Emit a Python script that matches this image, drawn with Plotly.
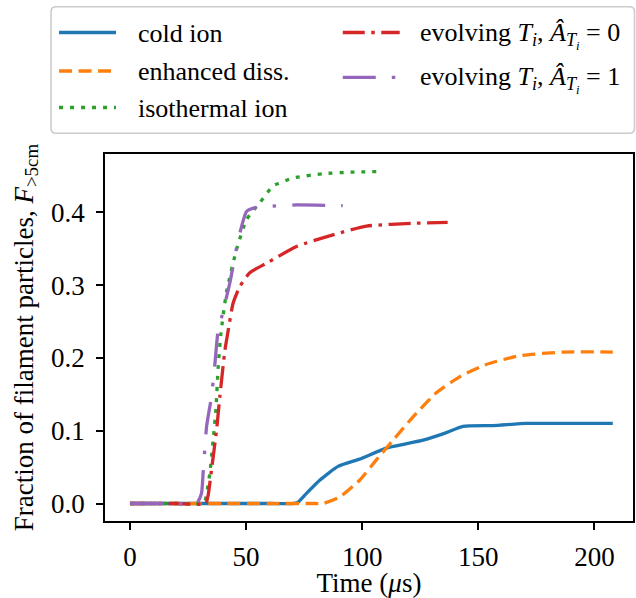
import plotly.graph_objects as go

# ---------------- data (time in microseconds, fraction F_{>5cm}) ----------------
cold_t = [0, 20, 40, 60, 70, 72.4, 76, 81.7, 89.6, 98.9, 110.4, 126.2, 136, 143.4, 156.3, 170.6, 190, 207.9]
cold_y = [0, 0, 0, 0, 0, 0.002, 0.014, 0.032, 0.051, 0.061, 0.076, 0.087, 0.097, 0.106, 0.107, 0.110, 0.110, 0.110]

enh_t = [0, 20, 40, 60, 80, 83.1, 90.3, 98.9, 106.1, 113.3, 121.9, 131.9, 141.9, 153.4, 167.7, 186.4, 207.9]
enh_y = [0, 0, 0, 0, 0, 0.0, 0.009, 0.032, 0.060, 0.087, 0.119, 0.152, 0.174, 0.191, 0.203, 0.208, 0.208]

iso_t = [0, 20, 31.3, 32.3, 34.4, 35.8, 37.0, 38.0, 39.1, 41.6, 45.9, 50.2, 55.9, 61.6, 70.2, 83.1, 95, 107.5]
iso_y = [0, 0, 0, 0.003, 0.042, 0.087, 0.129, 0.188, 0.232, 0.291, 0.349, 0.390, 0.413, 0.436, 0.447, 0.453, 0.455, 0.456]

ev0_t = [0, 20, 32.6, 33.7, 35.1, 37.3, 38.7, 40.9, 42.0, 44.4, 47.3, 51.6, 58.8, 71.7, 87.4, 101.8, 123.3, 136.8]
ev0_y = [0, 0, 0, 0.012, 0.046, 0.101, 0.147, 0.211, 0.232, 0.275, 0.298, 0.317, 0.330, 0.353, 0.369, 0.381, 0.385, 0.386]

ev1_t = [0, 20, 28.7, 30.8, 31.5, 33.0, 35.1, 36.6, 38.0, 39.4, 43.0, 46.6, 50.2, 53.5, 58.8, 71.7, 91.6]
ev1_y = [0, 0, 0, 0.014, 0.042, 0.106, 0.147, 0.193, 0.239, 0.255, 0.303, 0.362, 0.401, 0.406, 0.408, 0.410, 0.409]

series_names = ["cold ion", "enhanced diss.", "isothermal ion",
                "evolving <i>T<sub>i</sub></i>, <i>Â</i><sub><i>T<sub>i</sub></i></sub> = 0",
                "evolving <i>T<sub>i</sub></i>, <i>Â</i><sub><i>T<sub>i</sub></i></sub> = 1"]
series_t = [cold_t, enh_t, iso_t, ev0_t, ev1_t]
series_y = [cold_y, enh_y, iso_y, ev0_y, ev1_y]

x_ticks = [0, 50, 100, 150, 200]
y_ticks = [0.0, 0.1, 0.2, 0.3, 0.4]

# ---------------- styles ----------------
FONT = "Liberation Serif"
W = 3.3
colors = ["#1f77b4", "#ff7f0e", "#2ca02c", "#d62728", "#9467bd"]
dashes = ["solid", "13px,6.5px", "4px,7px", "22px,6.5px,3.5px,6.5px", "33px,16px,3.5px,16px"]

# plot area in pixels
W_FIG, H_FIG = 636, 598
PL, PR, PT, PB = 105, 633.5, 154, 521


def px2paper_x(px):
    return (px - PL) / (PR - PL)


def px2paper_y(py):
    return (PB - py) / (PB - PT)


fig = go.Figure()
for name, t, y, c, d in zip(series_names, series_t, series_y, colors, dashes):
    fig.add_trace(go.Scatter(x=t, y=y, mode="lines", name=name, showlegend=False,
                             line=dict(color=c, width=W, dash=d, shape="spline", smoothing=0.5)))

axis_common = dict(showgrid=False, zeroline=False, showline=True, linecolor="black", linewidth=1.8,
                   mirror=True, ticks="outside", ticklen=7, tickwidth=1.6, tickcolor="black",
                   automargin=False,
                   tickfont=dict(family=FONT, size=27, color="black"))

fig.update_xaxes(range=[-10.75, 216.6], tickvals=x_ticks, ticktext=[str(v) for v in x_ticks],
                 ticklabelstandoff=4,
                 title=dict(text="Time (<i>μ</i>s)", font=dict(family=FONT, size=27, color="black"), standoff=9),
                 **axis_common)
fig.update_yaxes(range=[-0.024, 0.480], tickvals=y_ticks, ticktext=[f"{v:.1f}" for v in y_ticks],
                 ticklabelstandoff=6,
                 title=dict(text="Fraction of filament particles, <i>F</i><sub>&gt;5cm</sub>",
                            font=dict(family=FONT, size=27, color="black"), standoff=10),
                 **axis_common)

# ---------------- legend (drawn as a box with handles and text) ----------------
shapes = []
annotations = []

bx0, bx1, by0, by1, r = 51, 635, 6.7, 133.3, 5
X0, X1 = px2paper_x(bx0), px2paper_x(bx1)
Y0, Y1 = px2paper_y(by1), px2paper_y(by0)
rx = r / (PR - PL)
ry = r / (PB - PT)
path = (f"M {X0 + rx},{Y1} L {X1 - rx},{Y1} Q {X1},{Y1} {X1},{Y1 - ry} "
        f"L {X1},{Y0 + ry} Q {X1},{Y0} {X1 - rx},{Y0} "
        f"L {X0 + rx},{Y0} Q {X0},{Y0} {X0},{Y0 + ry} "
        f"L {X0},{Y1 - ry} Q {X0},{Y1} {X0 + rx},{Y1} Z")
shapes.append(dict(type="path", xref="paper", yref="paper", path=path,
                   line=dict(color="#cccccc", width=1.6), fillcolor="rgba(255,255,255,0.8)", layer="above"))

# (handle x0, handle x1, handle y, text x, text y) per series
legend_pos = [
    (59, 116, 32.5, 136, 33.5),
    (59, 116, 71, 136, 71.5),
    (59, 116, 107.5, 136, 108.5),
    (343, 400, 32.5, 418, 35),
    (343, 400, 77.3, 418, 80),
]
for name, c, d, (hx0, hx1, hy, tx, ty) in zip(series_names, colors, dashes, legend_pos):
    shapes.append(dict(type="line", xref="paper", yref="paper",
                       x0=px2paper_x(hx0), x1=px2paper_x(hx1), y0=px2paper_y(hy), y1=px2paper_y(hy),
                       line=dict(color=c, width=W, dash=d), layer="above"))
    annotations.append(dict(text=name, xref="paper", yref="paper", x=px2paper_x(tx), y=px2paper_y(ty),
                            xanchor="left", yanchor="middle", showarrow=False,
                            font=dict(family=FONT, size=26, color="black")))

fig.update_layout(
    width=W_FIG, height=H_FIG,
    margin=dict(l=PL, r=W_FIG - PR, t=PT, b=H_FIG - PB, autoexpand=False),
    plot_bgcolor="white", paper_bgcolor="white",
    font=dict(family=FONT, size=26, color="black"),
    showlegend=False,
    shapes=shapes,
    annotations=annotations,
)

fig.write_html("out.html")
